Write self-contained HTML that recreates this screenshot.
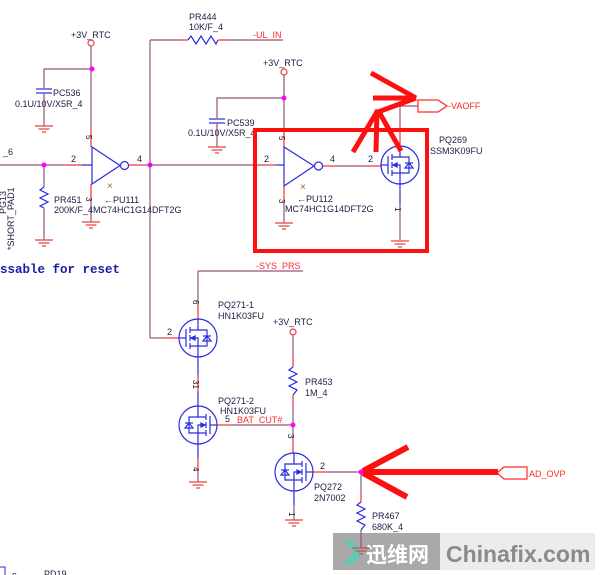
<!DOCTYPE html>
<html><head><meta charset="utf-8"><style>
html,body{margin:0;padding:0;background:#fff;}
svg{display:block;}
text{font-family:"Liberation Sans",Arial,sans-serif;font-size:9px;fill:#1c1c44;}
.r{fill:#ff2a2a;}
.pin{font-size:8px;fill:#111;}
</style></head><body>
<svg width="600" height="575" viewBox="0 0 600 575" xmlns="http://www.w3.org/2000/svg">
<defs>
<g id="gnd" stroke="#e84040" stroke-width="1.2" fill="none">
<line x1="-9" y1="0" x2="9" y2="0"/><line x1="-5.5" y1="3" x2="5.5" y2="3"/><line x1="-2" y1="6" x2="2" y2="6"/>
</g>
<g id="fet" stroke="#2a2ae0" stroke-width="1.2" fill="none">
<circle r="19"/>
<line x1="-19" y1="0" x2="-12" y2="0"/>
<line x1="-12" y1="-9" x2="-12" y2="9"/>
<line x1="-8" y1="-11" x2="-8" y2="-5"/><line x1="-8" y1="-3" x2="-8" y2="3"/><line x1="-8" y1="5" x2="-8" y2="11"/>
<polyline points="-8,-8 0,-8 0,-19"/>
<polyline points="-8,8 0,8 0,19"/>
<polyline points="-8,0 0,0 0,8"/>
<polygon points="-7,0 -3,-2 -3,2" fill="#2a2ae0"/>
<polyline points="0,-8 9,-8 9,8 0,8"/>
<polygon points="5,3 13,3 9,-2"/>
<line x1="5" y1="-2" x2="13" y2="-2"/>
</g>
</defs>

<!-- watermark -->
<rect x="333" y="533" width="107" height="37" fill="#a9a9a9"/>
<rect x="440" y="533" width="155" height="37" fill="#ececec"/>
<polygon points="343,541 352,541 364,552 352,564 343,564 355,552" fill="#5cc8b6"/>
<text x="366" y="562" style="font-family:'Noto Sans CJK SC','WenQuanYi Zen Hei',sans-serif;font-size:21px;font-weight:bold;fill:#fff;">迅维网</text>
<text x="446" y="562" style="font-size:23px;font-weight:bold;fill:#8a8a8a;">Chinafix.com</text>

<g fill="none" stroke-width="1.2">
<!-- ===== section 1: PU111 ===== -->
<circle cx="91" cy="43" r="3" stroke="#e84040"/>
<line x1="91" y1="46" x2="91" y2="128" stroke="#93567a"/>
<line x1="91" y1="128" x2="91" y2="147" stroke="#f03030"/>
<polyline points="44,88 44,69 91,69" stroke="#93567a"/>
<line x1="36" y1="89" x2="52" y2="89" stroke="#2a2ae0"/>
<line x1="36" y1="93" x2="52" y2="93" stroke="#2a2ae0"/>
<line x1="44" y1="93" x2="44" y2="126" stroke="#93567a"/>
<polygon points="92,147 92,184 120,165.5" stroke="#2a2ae0"/>
<circle cx="124.5" cy="165.5" r="4" stroke="#2a2ae0"/>
<line x1="129" y1="165" x2="143" y2="165" stroke="#f03030"/>
<line x1="143" y1="165" x2="150" y2="165" stroke="#93567a"/>
<line x1="0" y1="165" x2="67" y2="165" stroke="#93567a"/>
<line x1="67" y1="165" x2="82" y2="165" stroke="#f03030"/>
<line x1="82" y1="165" x2="92" y2="165" stroke="#2a2ae0"/>
<line x1="91" y1="184" x2="91" y2="202" stroke="#f03030"/>
<line x1="91" y1="202" x2="91" y2="222" stroke="#93567a"/>
<line x1="44" y1="165" x2="44" y2="187" stroke="#93567a"/>
<polyline points="44,187 40,190 48,194 40,198 48,202 40,206 44,208" stroke="#2a2ae0"/>
<line x1="44" y1="208" x2="44" y2="240" stroke="#93567a"/>

<!-- bus x=150 -->
<line x1="150" y1="40" x2="150" y2="338" stroke="#93567a"/>
<line x1="150" y1="40" x2="180" y2="40" stroke="#93567a"/>
<line x1="180" y1="40" x2="188" y2="40" stroke="#f03030"/>
<polyline points="188,40 191,36 196,44 201,36 206,44 211,36 216,44 218,40" stroke="#2a2ae0"/>
<line x1="218" y1="40" x2="228" y2="40" stroke="#f03030"/>
<line x1="228" y1="40" x2="283" y2="40" stroke="#93567a"/>
<line x1="150" y1="338" x2="164" y2="338" stroke="#93567a"/>
<line x1="164" y1="338" x2="179" y2="338" stroke="#f03030"/>

<!-- ===== section 2: PU112 ===== -->
<circle cx="284" cy="72" r="3" stroke="#e84040"/>
<line x1="284" y1="75" x2="284" y2="130" stroke="#93567a"/>
<line x1="284" y1="130" x2="284" y2="147" stroke="#f03030"/>
<polyline points="217,118 217,98 284,98" stroke="#93567a"/>
<line x1="209" y1="119" x2="225" y2="119" stroke="#2a2ae0"/>
<line x1="209" y1="123" x2="225" y2="123" stroke="#2a2ae0"/>
<line x1="217" y1="123" x2="217" y2="147" stroke="#93567a"/>
<polygon points="284,147 284,186 314,166" stroke="#2a2ae0"/>
<circle cx="318.5" cy="166" r="4" stroke="#2a2ae0"/>
<line x1="150" y1="165" x2="262" y2="165" stroke="#93567a"/>
<line x1="262" y1="165" x2="276" y2="165" stroke="#f03030"/>
<line x1="276" y1="165" x2="284" y2="165" stroke="#2a2ae0"/>
<line x1="323" y1="166" x2="338" y2="166" stroke="#f03030"/>
<line x1="338" y1="166" x2="365" y2="166" stroke="#93567a"/>
<line x1="365" y1="166" x2="381" y2="166" stroke="#f03030"/>
<line x1="284" y1="186" x2="284" y2="204" stroke="#f03030"/>
<line x1="284" y1="204" x2="284" y2="223" stroke="#93567a"/>
<line x1="400" y1="106" x2="400" y2="122" stroke="#93567a"/>
<line x1="400" y1="122" x2="400" y2="146" stroke="#f03030"/>
<line x1="400" y1="106" x2="418" y2="106" stroke="#93567a"/>
<line x1="400" y1="184" x2="400" y2="204" stroke="#2a2ae0"/>
<line x1="400" y1="204" x2="400" y2="240" stroke="#93567a"/>
<polygon points="418,100 438,100 447,106 438,112 418,112" stroke="#ff2a2a"/>

<!-- ===== section 3: SYS_PRS / BAT_CUT ===== -->
<line x1="198" y1="271" x2="303" y2="271" stroke="#93567a"/>
<line x1="198" y1="271" x2="198" y2="305" stroke="#93567a"/>
<line x1="198" y1="305" x2="198" y2="319" stroke="#f03030"/>
<line x1="198" y1="357" x2="198" y2="375" stroke="#2a2ae0"/>
<line x1="198" y1="375" x2="198" y2="392" stroke="#f03030"/>
<line x1="198" y1="392" x2="198" y2="406" stroke="#2a2ae0"/>
<line x1="198" y1="444" x2="198" y2="458" stroke="#2a2ae0"/>
<line x1="198" y1="458" x2="198" y2="472" stroke="#f03030"/>
<line x1="198" y1="472" x2="198" y2="482" stroke="#93567a"/>
<line x1="217" y1="425" x2="232" y2="425" stroke="#f03030"/>
<line x1="232" y1="425" x2="293" y2="425" stroke="#93567a"/>
<circle cx="293" cy="332" r="3" stroke="#e84040"/>
<line x1="293" y1="335" x2="293" y2="357" stroke="#93567a"/>
<line x1="293" y1="357" x2="293" y2="367" stroke="#f03030"/>
<polyline points="293,367 289,370 297,374 289,378 297,382 289,386 297,390 293,395" stroke="#2a2ae0"/>
<line x1="293" y1="395" x2="293" y2="405" stroke="#f03030"/>
<line x1="293" y1="405" x2="293" y2="440" stroke="#93567a"/>
<line x1="293" y1="440" x2="293" y2="453" stroke="#f03030"/>
<line x1="313" y1="472" x2="326" y2="472" stroke="#f03030"/>
<line x1="326" y1="472" x2="361" y2="472" stroke="#93567a"/>
<line x1="294" y1="491" x2="294" y2="505" stroke="#2a2ae0"/>
<line x1="294" y1="505" x2="294" y2="520" stroke="#93567a"/>
<line x1="361" y1="472" x2="361" y2="492" stroke="#93567a"/>
<line x1="361" y1="492" x2="361" y2="502" stroke="#f03030"/>
<polyline points="361,502 357,505 365,509 357,513 365,517 357,521 365,525 361,530" stroke="#2a2ae0"/>
<line x1="361" y1="530" x2="361" y2="548" stroke="#93567a"/>
<polygon points="497,473 504,467 527,467 527,479 504,479" stroke="#ff2a2a"/>
</g>

<!-- grounds -->
<use href="#gnd" x="44" y="126"/>
<use href="#gnd" x="91" y="222"/>
<use href="#gnd" x="44" y="240"/>
<use href="#gnd" x="217" y="147"/>
<use href="#gnd" x="284" y="223"/>
<use href="#gnd" x="400" y="241"/>
<use href="#gnd" x="198" y="482"/>
<use href="#gnd" x="294" y="520"/>
<use href="#gnd" x="361" y="548"/>

<!-- FETs -->
<use href="#fet" x="400" y="165"/>
<use href="#fet" x="198" y="338"/>
<g transform="translate(198,425) scale(-1,1)"><use href="#fet"/></g>
<g transform="translate(294,472) scale(-1,1)"><use href="#fet"/></g>

<!-- junctions -->
<g fill="#ff00ff">
<circle cx="92" cy="69" r="2.5"/><circle cx="44" cy="165" r="2.5"/><circle cx="150" cy="165" r="2.5"/>
<circle cx="284" cy="98" r="2.5"/><circle cx="293" cy="425" r="2.5"/><circle cx="361" cy="472" r="2.5"/>
</g>

<!-- labels -->
<text x="71" y="38">+3V_RTC</text>
<text x="53" y="96">PC536</text>
<text x="15" y="107">0.1U/10V/X5R_4</text>
<text x="137" y="162">4</text>
<text x="71" y="162">2</text>
<text x="3" y="155">_6</text>
<text class="pin" transform="translate(86,135) rotate(90)">5</text>
<text class="pin" transform="translate(86,197) rotate(90)">3</text>
<text x="107" y="189" style="fill:#9a6030;font-size:10px;">×</text>
<text x="54" y="203">PR451</text>
<text x="54" y="213">200K/F_4MC74HC1G14DFT2G</text>
<text x="104" y="203">←PU111</text>
<text transform="translate(6,214) rotate(-90)">PG13</text>
<text transform="translate(14,250) rotate(-90)">*SHORT_PAD1</text>
<text x="0" y="273" style="font-family:'Liberation Mono',monospace;font-weight:bold;font-size:12.5px;fill:#1a1aa8;">ssable for reset</text>

<text x="189" y="20">PR444</text>
<text x="189" y="30">10K/F_4</text>
<text x="253" y="38" class="r">-UL_IN</text>

<text x="263" y="66">+3V_RTC</text>
<text x="227" y="126">PC539</text>
<text x="188" y="136">0.1U/10V/X5R_4</text>
<text x="264" y="162">2</text>
<text x="330" y="162">4</text>
<text x="368" y="162">2</text>
<text class="pin" transform="translate(279,136) rotate(90)">5</text>
<text class="pin" transform="translate(279,199) rotate(90)">3</text>
<text x="300" y="190" style="fill:#9a6030;font-size:10px;">×</text>
<text x="297" y="202">←PU112</text>
<text x="285" y="212">MC74HC1G14DFT2G</text>
<text class="pin" transform="translate(395,128) rotate(90)">3</text>
<text class="pin" transform="translate(395,207) rotate(90)">1</text>
<text x="439" y="143">PQ269</text>
<text x="430" y="154">SSM3K09FU</text>
<text x="448" y="109" class="r">-VAOFF</text>

<text x="256" y="269" class="r">-SYS_PRS</text>
<text class="pin" transform="translate(193,300) rotate(90)">6</text>
<text x="167" y="335">2</text>
<text x="218" y="308">PQ271-1</text>
<text x="218" y="319">HN1K03FU</text>
<text class="pin" transform="translate(193,380) rotate(90)">31</text>
<text x="218" y="404">PQ271-2</text>
<text x="220" y="414">HN1K03FU</text>
<text x="225" y="422">5</text>
<text x="237" y="423" class="r">BAT_CUT#</text>
<text class="pin" transform="translate(193,467) rotate(90)">4</text>
<text x="273" y="325">+3V_RTC</text>
<text x="305" y="385">PR453</text>
<text x="305" y="396">1M_4</text>
<text class="pin" transform="translate(288,434) rotate(90)">3</text>
<text x="320" y="469">2</text>
<text x="314" y="490">PQ272</text>
<text x="314" y="501">2N7002</text>
<text class="pin" transform="translate(289,512) rotate(90)">1</text>
<text x="372" y="519">PR467</text>
<text x="372" y="530">680K_4</text>
<text x="529" y="477" class="r">AD_OVP</text>

<!-- bottom-left fragments -->
<rect x="-3" y="567" width="8" height="12" fill="none" stroke="#2a2ae0" stroke-width="1"/>
<text x="12" y="578">c</text>
<text x="44" y="577">PD19</text>

<!-- red annotation box & arrows -->
<rect x="255" y="130" width="172" height="121" fill="none" stroke="#ff1010" stroke-width="4"/>
<g stroke="#ff1010" stroke-width="5" stroke-linecap="butt" fill="none">
<line x1="371" y1="73" x2="416" y2="98"/>
<line x1="373" y1="98" x2="416" y2="98"/>
<line x1="378" y1="112" x2="416" y2="98"/>
<line x1="378" y1="110" x2="353" y2="152"/>
<line x1="377" y1="110" x2="376" y2="152"/>
<line x1="378" y1="110" x2="401" y2="151"/>
<line x1="365" y1="472" x2="498" y2="472" stroke-width="6"/>
<line x1="363" y1="471" x2="408" y2="447" stroke-width="6"/>
<line x1="363" y1="473" x2="407" y2="497" stroke-width="6"/>
</g>
</svg>
</body></html>
